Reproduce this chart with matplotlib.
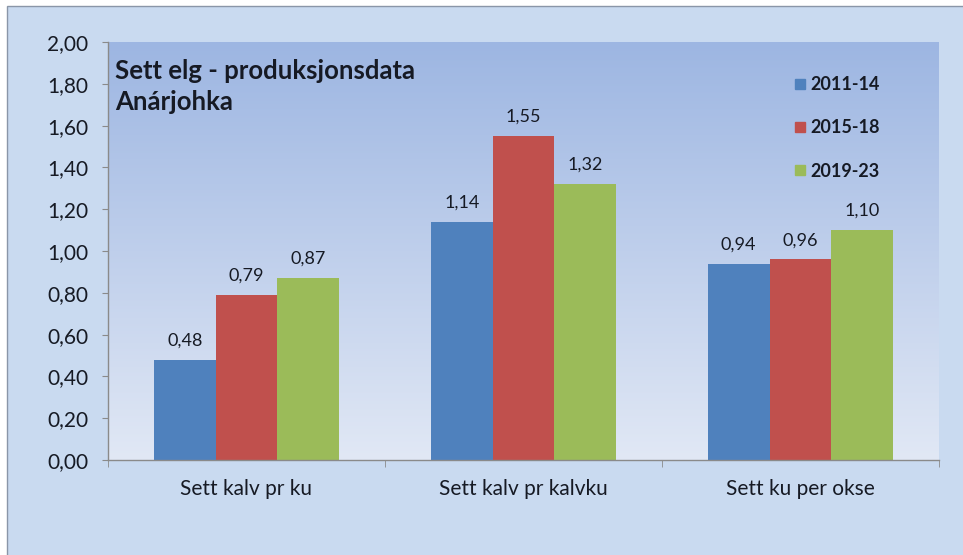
import matplotlib
matplotlib.use("Agg")
import matplotlib.pyplot as plt
import numpy as np
from matplotlib.patches import Rectangle
from matplotlib.lines import Line2D

categories = ["Sett kalv pr ku", "Sett kalv pr kalvku", "Sett ku per okse"]
periods = ["2011-14", "2015-18", "2019-23"]
v_2011 = [0.48, 1.14, 0.94]
v_2015 = [0.79, 1.55, 0.96]
v_2019 = [0.87, 1.32, 1.10]
series = [v_2011, v_2015, v_2019]
colors = ["#4f81bd", "#c0504d", "#9bbb59"]

plt.rcParams["font.family"] = ["Lato", "DejaVu Sans"]
TXT = "#161a24"

fig = plt.figure(figsize=(9.63, 5.55), dpi=100)
fig.patch.set_facecolor("white")
# outer chart frame
fig.patches.append(Rectangle((7/963, -0.01), 960/963, (549/555) + 0.01, transform=fig.transFigure,
                             facecolor="#c9daf0", edgecolor="#8a96a8", linewidth=1.0, zorder=-10))

ax = fig.add_axes([108/963, 95/555, 831/963, 418/555])
ax.set_facecolor("none")
ax.set_xlim(-0.5, 2.5)
ax.set_ylim(0, 2.0)

# plot-area gradient (blue top -> pale bottom)
top = np.array([157, 182, 226]) / 255
bot = np.array([225, 232, 245]) / 255
t = np.linspace(0, 1, 256)[:, None]
grad = (top * (1 - t) + bot * t)[:, None, :].repeat(2, axis=1)
ax.imshow(grad, extent=[-0.5, 2.5, 0, 2.0], aspect="auto", zorder=0, origin="upper")

x = np.arange(len(categories))
w = 0.223
for i, (vals, c) in enumerate(zip(series, colors)):
    bars = ax.bar(x + (i - 1) * w, vals, w, color=c, zorder=2, label=periods[i])
    ax.bar_label(bars, labels=[f"{v:.2f}".replace(".", ",") for v in vals],
                 padding=8, fontsize=13, color=TXT)

ax.set_yticks(np.arange(0, 2.01, 0.2))
ax.set_yticklabels([f"{v:.2f}".replace(".", ",") for v in np.arange(0, 2.01, 0.2)],
                   fontsize=15, color=TXT)
ax.set_xticks(x)
ax.set_xticklabels(categories, fontsize=15, color=TXT)
ax.tick_params(axis="x", length=0, pad=14)
ax.set_xticks([-0.5, 0.5, 1.5, 2.5], minor=True)
ax.tick_params(axis="x", which="minor", length=5, color="#8a8a8a", direction="out")
ax.tick_params(axis="y", length=4.5, color="#8a8a8a", direction="out", pad=9.5)

for s in ["top", "right"]:
    ax.spines[s].set_visible(False)
for s in ["left", "bottom"]:
    ax.spines[s].set_color("#8a8a8a")
    ax.spines[s].set_linewidth(1.0)

ax.text(0.009, 0.96, "Sett elg - produksjonsdata\nAnárjohka", transform=ax.transAxes,
        ha="left", va="top", fontsize=18.5, fontweight="bold", color=TXT, linespacing=1.35)

handles = [Line2D([0], [0], marker="s", linestyle="none", markersize=7.5,
                  markerfacecolor=c, markeredgecolor=c) for c in colors]
leg = ax.legend(handles, periods, loc="upper right", bbox_to_anchor=(0.948, 0.957),
                frameon=False, labelspacing=1.45, handletextpad=0.15, handlelength=0.8,
                prop={"weight": "bold", "size": 13})
for txt in leg.get_texts():
    txt.set_color(TXT)

fig.savefig("out.png", dpi=100)
